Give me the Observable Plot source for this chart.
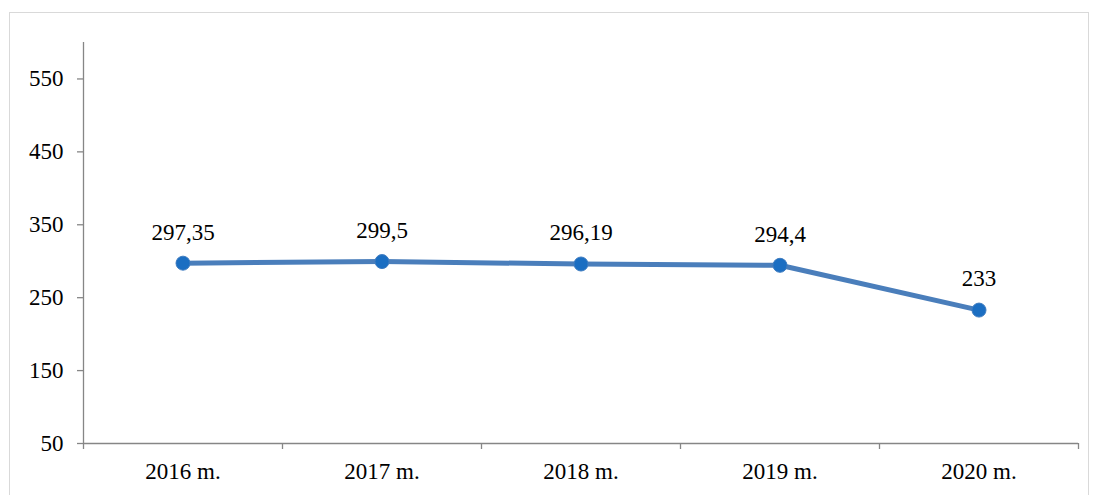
<!DOCTYPE html>
<html>
<head>
<meta charset="utf-8">
<script src="https://cdn.jsdelivr.net/npm/d3@7"></script>
<script src="https://cdn.jsdelivr.net/npm/@observablehq/plot@0.6"></script>
<style>
  html, body { margin: 0; padding: 0; background: #fff; }
  #wrap { position: relative; width: 1093px; height: 495px; overflow: hidden; }
  #frame { position: absolute; left: 9px; top: 12px; width: 1080px; height: 500px; border: 1px solid #d9d9d9; box-sizing: border-box; }
  #chart { position: absolute; left: 0; top: 0; }
</style>
</head>
<body>
<div id="wrap"><div id="frame"></div><div id="chart"></div></div>
<script>
const categories = ["2016 m.", "2017 m.", "2018 m.", "2019 m.", "2020 m."];
const values = [297.35, 299.5, 296.19, 294.4, 233];
const yTicks = [50, 150, 250, 350, 450, 550];

const data = categories.map((c, i) => ({i: i + 0.5, cat: c, v: values[i]}));
const fmt = v => String(v).replace(".", ",");
const FF = "Liberation Serif";
const FS = 23;

const chart = Plot.plot({
  width: 1093,
  height: 495,
  marginLeft: 83,
  marginRight: 15,
  marginTop: 42,
  marginBottom: 52,
  style: {background: "transparent", color: "#000"},
  x: {type: "linear", domain: [0, categories.length]},
  y: {domain: [50, 600]},
  marks: [
    Plot.ruleX([0], {y1: 50, y2: 600, stroke: "#868686", strokeWidth: 1.3}),
    Plot.ruleY([50], {stroke: "#868686", strokeWidth: 1.3}),
    Plot.axisY({ticks: yTicks, tickSize: 6, tickPadding: 14, stroke: "#868686", strokeWidth: 1.3, strokeOpacity: 1, label: null, fill: "#000", fontFamily: FF, fontSize: FS}),
    Plot.axisX({ticks: d3.range(categories.length + 1), tickSize: 6, tickFormat: () => "", stroke: "#868686", strokeWidth: 1.3, strokeOpacity: 1, label: null}),
    Plot.axisX({ticks: data.map(d => d.i), tickSize: 0, tickPadding: 19, tickFormat: t => categories[Math.round(t - 0.5)], label: null, fill: "#000", fontFamily: FF, fontSize: FS}),
    Plot.line(data, {x: "i", y: "v", stroke: "#4a7ebb", strokeWidth: 5, strokeLinejoin: "round", strokeLinecap: "round"}),
    Plot.dot(data, {x: "i", y: "v", r: 7, fill: "#1b6ec2", stroke: "#3f7cc0", strokeWidth: 1}),
    Plot.text(data, {x: "i", y: "v", text: d => fmt(d.v), dy: -31, fontSize: FS, fontFamily: FF, fill: "#000"})
  ]
});
document.getElementById("chart").appendChild(chart);
</script>
</body>
</html>
